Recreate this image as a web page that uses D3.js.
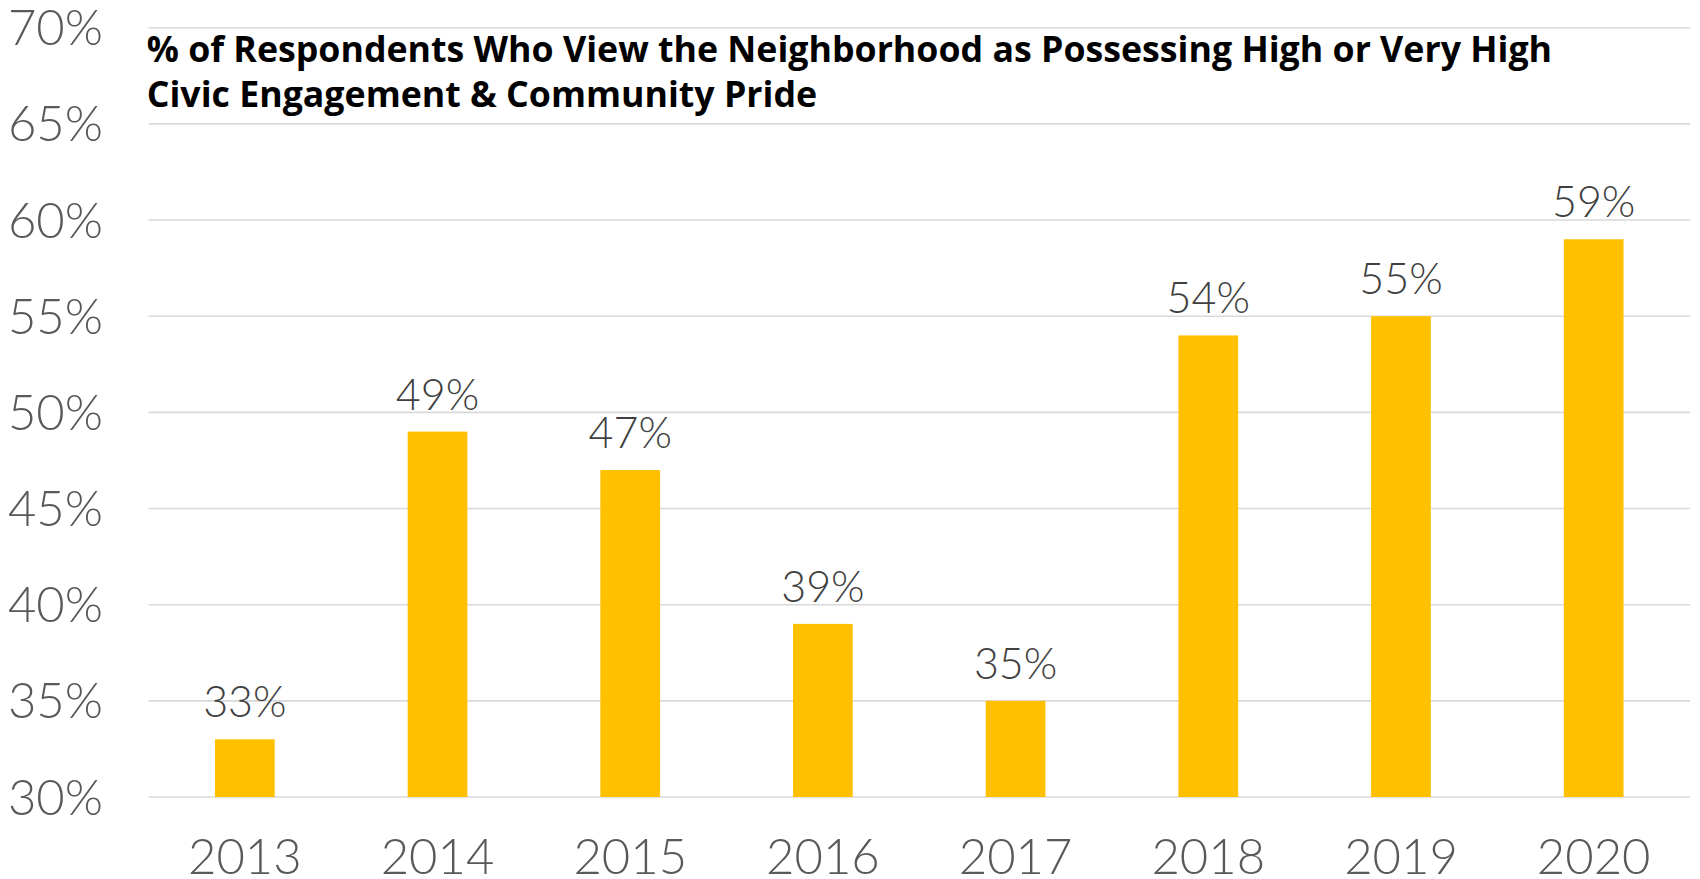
<!DOCTYPE html>
<html>
<head>
<meta charset="utf-8">
<script src="https://cdn.jsdelivr.net/npm/d3@7"></script>
<style>
  html, body { margin: 0; padding: 0; background: #fff; }
  svg { display: block; }
</style>
</head>
<body>
<svg id="chart" width="1700" height="879"></svg>
<script>
// Survey years and share of respondents rating civic engagement high / very high
const years = ["2013", "2014", "2015", "2016", "2017", "2018", "2019", "2020"];
const shares = [0.33, 0.49, 0.47, 0.39, 0.35, 0.54, 0.55, 0.59];
const yTicks = [0.30, 0.35, 0.40, 0.45, 0.50, 0.55, 0.60, 0.65, 0.70];
const titleLines = [
  "% of Respondents Who View the Neighborhood as Possessing High or Very High",
  "Civic Engagement & Community Pride"
];

const svg = d3.select("#chart");
const W = 1700, H = 879;
const plot = { left: 148.5, right: 1690, top: 27.7, bottom: 797 };

const x = d3.scaleBand()
  .domain(years)
  .range([plot.left, plot.right])
  .paddingInner(0.69)
  .paddingOuter(0.345);

const y = d3.scaleLinear()
  .domain([0.30, 0.70])
  .range([plot.bottom, plot.top]);

const pct = d3.format(".0%");

// Horizontal gridlines
svg.append("g")
  .selectAll("line")
  .data(yTicks)
  .join("line")
  .attr("x1", plot.left)
  .attr("x2", plot.right)
  .attr("y1", d => y(d))
  .attr("y2", d => y(d))
  .attr("stroke", "#d9d9d9")
  .attr("stroke-width", 1.6);

// Y axis tick labels
const yAxis = d3.axisLeft(y).tickValues(yTicks).tickFormat(pct).tickSize(0).tickPadding(0);
const gy = svg.append("g").attr("transform", "translate(103,0)").call(yAxis);
gy.select(".domain").remove();
gy.selectAll("text")
  .attr("dy", null)
  .attr("y", 17)
  .attr("x", 0)
  .attr("font-family", "Lato, 'Open Sans', sans-serif")
  .attr("font-weight", 300)
  .attr("font-size", 49)
  .attr("fill", "#595959");

// X axis labels
const xAxis = d3.axisBottom(x).tickSize(0).tickPadding(0);
const gx = svg.append("g").attr("transform", "translate(0,874)").call(xAxis);
gx.select(".domain").remove();
gx.selectAll("text")
  .attr("dy", null)
  .attr("y", 0)
  .attr("font-family", "Lato, 'Open Sans', sans-serif")
  .attr("font-weight", 300)
  .attr("font-size", 49)
  .attr("fill", "#595959");

// Bars
svg.append("g")
  .selectAll("rect")
  .data(years)
  .join("rect")
  .attr("x", d => x(d))
  .attr("width", x.bandwidth())
  .attr("y", (d, i) => y(shares[i]))
  .attr("height", (d, i) => y(0.30) - y(shares[i]))
  .attr("fill", "#FFC000");

// Value labels above bars
svg.append("g")
  .selectAll("text")
  .data(years)
  .join("text")
  .attr("x", d => x(d) + x.bandwidth() / 2)
  .attr("y", (d, i) => y(shares[i]) - 22)
  .attr("text-anchor", "middle")
  .attr("font-family", "Lato, 'Open Sans', sans-serif")
  .attr("font-weight", 300)
  .attr("font-size", 43)
  .attr("fill", "#404040")
  .text((d, i) => pct(shares[i]));

// Title, sized so the first line spans its intended width
const title = svg.append("g")
  .attr("font-family", "'Open Sans', 'Noto Sans', sans-serif")
  .attr("font-weight", 700)
  .attr("fill", "#000");
const tl = title.selectAll("text")
  .data(titleLines)
  .join("text")
  .attr("x", 146.7)
  .attr("y", (d, i) => 61.7 + i * 45.6)
  .attr("font-size", 33)
  .text(d => d);
const w0 = tl.nodes()[0].getComputedTextLength();
const fs = 33 * 1406 / w0;
tl.attr("font-size", fs);
</script>
</body>
</html>
